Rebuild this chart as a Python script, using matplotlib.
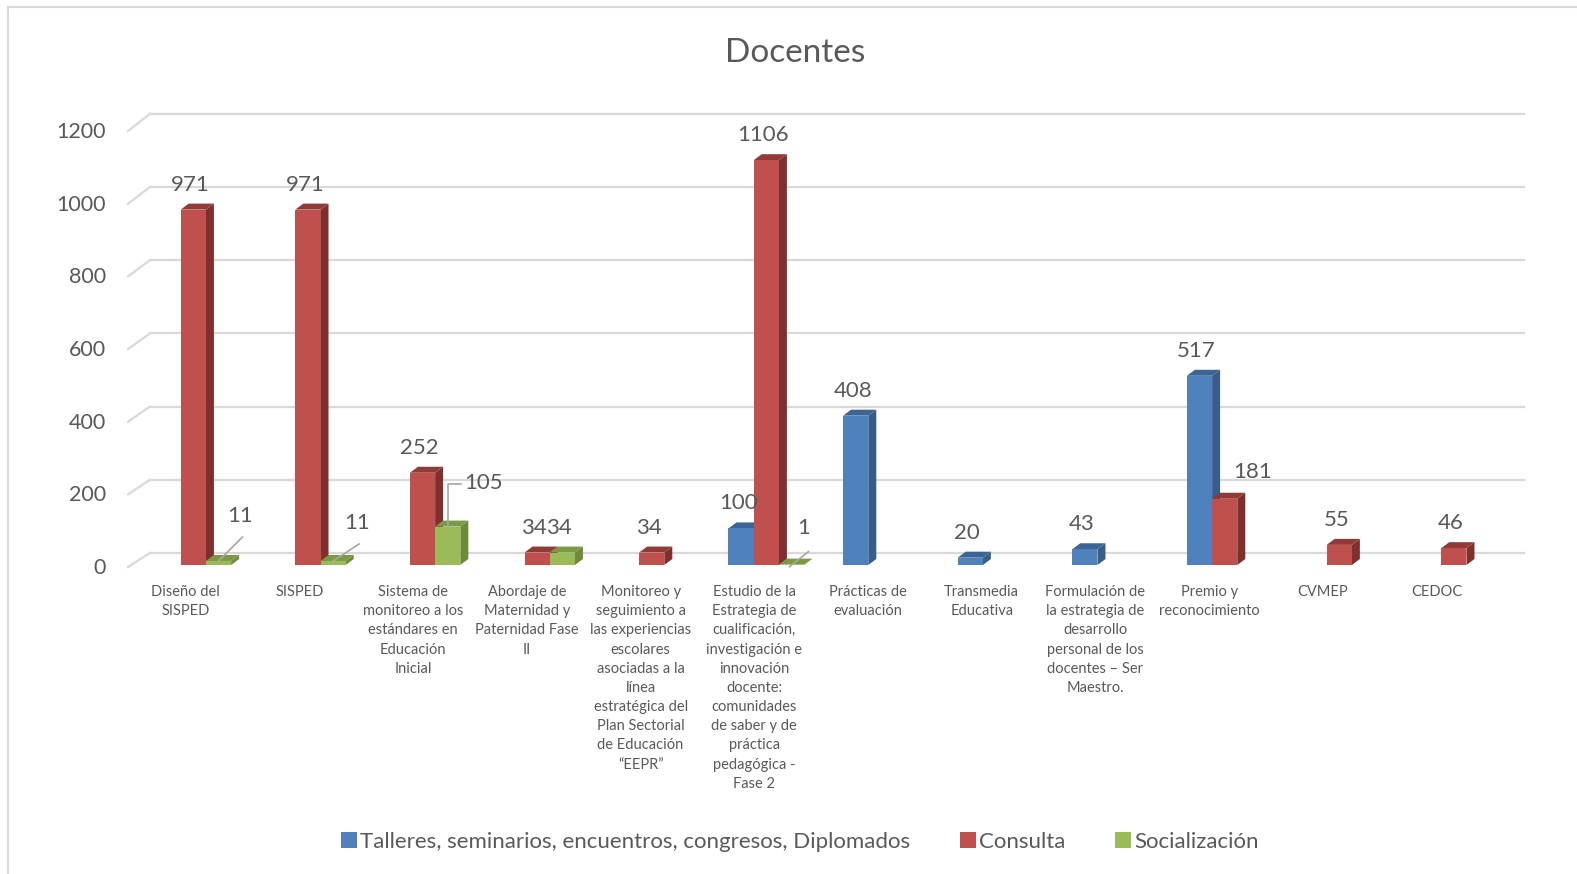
import matplotlib
matplotlib.use("Agg")
import matplotlib.pyplot as plt
from matplotlib.patches import Polygon, Patch
from matplotlib.lines import Line2D

plt.rcParams['font.family'] = ['Lato', 'DejaVu Sans']

# ---------------- data ----------------
categories = [
    "Diseño del\nSISPED",
    "SISPED",
    "Sistema de\nmonitoreo a los\nestándares en\nEducación\nInicial",
    "Abordaje de\nMaternidad y\nPaternidad Fase\nII",
    "Monitoreo y\nseguimiento a\nlas experiencias\nescolares\nasociadas a la\nlínea\nestratégica del\nPlan Sectorial\nde Educación\n“EEPR”",
    "Estudio de la\nEstrategia de\ncualificación,\ninvestigación e\ninnovación\ndocente:\ncomunidades\nde saber y de\npráctica\npedagógica -\nFase 2",
    "Prácticas de\nevaluación",
    "Transmedia\nEducativa",
    "Formulación de\nla estrategia de\ndesarrollo\npersonal de los\ndocentes – Ser\nMaestro.",
    "Premio y\nreconocimiento",
    "CVMEP",
    "CEDOC",
]
talleres = [None, None, None, None, None, 100, 408, 20, 43, 517, None, None]
consulta = [971, 971, 252, 34, 34, 1106, None, None, None, 181, 55, 46]
socializacion = [11, 11, 105, 34, None, 1, None, None, None, None, None, None]
series_names = ["Talleres, seminarios, encuentros, congresos, Diplomados",
                "Consulta", "Socialización"]
yticks = [0, 200, 400, 600, 800, 1000, 1200]

# ---------------- style ----------------
front = ["#4F81BD", "#C0504D", "#9BBB59"]
side = ["#385D8A", "#7F302E", "#6F8A3C"]
top = ["#3C6596", "#923A38", "#7C9A44"]
txt = "#595959"
gridc = "#D9D9D9"

W, H = 1577, 874
fig = plt.figure(figsize=(W / 100, H / 100), dpi=100)

# axes geometry (pixels)
x_left_px, x_right_px = 128, 1502
y0_px, px_per_val = 565, 0.366
xmin, xmax = -0.57, 11.42
px_per_cat = (x_right_px - x_left_px) / (xmax - xmin)
ymax = 1200
ax = fig.add_axes([x_left_px / W, 1 - y0_px / H,
                   (x_right_px - x_left_px) / W, ymax * px_per_val / H])
ax.set_xlim(xmin, xmax)
ax.set_ylim(0, ymax)
ax.axis('off')


def dxd(px):
    return px / px_per_cat


def dyd(px):
    return px / px_per_val


# back wall gridlines and front diagonal edges
back_dx, back_dy = dxd(22), 33
for v in yticks:
    ax.plot([xmin + back_dx, xmax + back_dx], [v + back_dy, v + back_dy],
            color=gridc, lw=1.6, clip_on=False, zorder=0)
    yf = v * 0.9926 - 5.5
    ax.plot([xmin, xmin + back_dx], [yf, v + back_dy],
            color=gridc, lw=1.6, clip_on=False, zorder=0)
    ax.text(xmin - dxd(22), yf - dyd(1), str(v), ha='right', va='center',
            fontsize=15.5, color=txt)

# bars with 3D side and top faces
w = 0.22
ddx, ddy = dxd(8), dyd(6)
all_series = [talleres, consulta, socializacion]
z = 2
for i in range(len(categories)):
    for s, vals in enumerate(all_series):
        v = vals[i]
        if v is None:
            continue
        xc = i + (s - 1) * w
        l, r = xc - w / 2, xc + w / 2
        ax.add_patch(Polygon([(r, 0), (r + ddx, ddy), (r + ddx, v + ddy), (r, v)],
                             closed=True, facecolor=side[s], edgecolor='none',
                             zorder=z, clip_on=False))
        ax.add_patch(Polygon([(l, v), (r, v), (r + ddx, v + ddy), (l + ddx, v + ddy)],
                             closed=True, facecolor=top[s], edgecolor='none',
                             zorder=z, clip_on=False))
        ax.bar([xc], [v], width=w, color=front[s], zorder=z + 0.5,
               clip_on=False, linewidth=0)
        z += 1

# data labels
special = {
    (0, 2): ((22, 45), [(0, 0), (24, 24)]),
    (1, 2): ((24, 38), [(0, 0), (26, 17)]),
    (2, 2): ((36, 44), [(0, 0), (0, 43), (13, 43)]),
    (5, 2): ((12, 37), [(-2, -2), (17, 13)]),
    (9, 1): ((28, 27), None),
}
for i in range(len(categories)):
    for s, vals in enumerate(all_series):
        v = vals[i]
        if v is None:
            continue
        xc = i + (s - 1) * w
        if (i, s) in special:
            (ox, oy), leader = special[(i, s)]
            if leader:
                ax.plot([xc + dxd(p[0]) for p in leader],
                        [v + dyd(p[1]) for p in leader],
                        color="#A6A6A6", lw=1.2, clip_on=False, zorder=50)
            ax.text(xc + dxd(ox), v + dyd(oy), str(v), ha='center', va='center',
                    fontsize=16, color=txt, zorder=60)
        else:
            ax.text(xc - dxd(3), v + dyd(25), str(v), ha='center', va='center',
                    fontsize=16, color=txt, zorder=60)

# category labels
for i, c in enumerate(categories):
    ax.text(i + dxd(-7.5 - 0.9 * i), -dyd(20), c, ha='center', va='top',
            fontsize=10.5, color=txt, linespacing=1.47)

# title
fig.text(795 / W, 1 - 53 / H, "Docentes", ha='center', va='center',
         fontsize=24, color=txt)

# legend
handles = [Patch(facecolor=front[k], edgecolor='none') for k in range(3)]
fig.legend(handles, series_names, loc='center', bbox_to_anchor=(800 / W, 1 - 842 / H),
           ncol=3, frameon=False, fontsize=16, labelcolor=txt,
           handlelength=0.7, handleheight=0.7, handletextpad=0.15,
           columnspacing=2.25)

# border
fig.add_artist(Line2D([8 / W, 8 / W], [0, 1 - 7 / H], color="#D9D9D9", lw=1.5))
fig.add_artist(Line2D([8 / W, 1], [1 - 7 / H, 1 - 7 / H], color="#D9D9D9", lw=1.5))

fig.savefig("out.png", dpi=100, facecolor='white')
